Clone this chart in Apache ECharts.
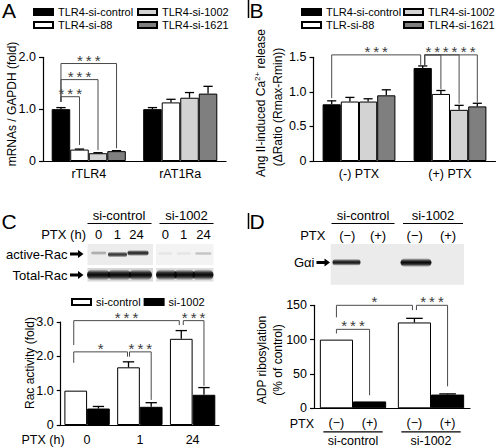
<!DOCTYPE html>
<html><head><meta charset="utf-8">
<script src="https://cdn.jsdelivr.net/npm/echarts@6/dist/echarts.min.js"></script>
<style>html,body{margin:0;padding:0;background:#fff}#c{width:498px;height:448px}</style>
</head><body><div id="c"></div>
<script>
// ================= DATA =================
// Panel A
const A_categories = ['rTLR4', 'rAT1Ra'];
const A_names = ['TLR4-si-control', 'TLR4-si-88', 'TLR4-si-1002', 'TLR4-si-1621'];
const A_control = [1.00, 1.00];
const A_control_err = [0.03, 0.03];
const A_si88 = [0.22, 1.13];
const A_si88_err = [0.01, 0.06];
const A_si1002 = [0.15, 1.22];
const A_si1002_err = [0.01, 0.10];
const A_si1621 = [0.19, 1.30];
const A_si1621_err = [0.01, 0.14];
const A_tickValues = [0, 1, 2];
const A_tickLabels = ['0', '1.0', '2.0'];

// Panel B
const B_categories = ['(-) PTX', '(+) PTX'];
const B_names = ['TLR4-si-control', 'TLR-si-88', 'TLR4-si-1002', 'TLR4-si-1621'];
const B_control = [0.82, 1.345];
const B_control_err = [0.05, 0.03];
const B_si88 = [0.86, 0.97];
const B_si88_err = [0.06, 0.05];
const B_si1002 = [0.86, 0.74];
const B_si1002_err = [0.04, 0.065];
const B_si1621 = [0.95, 0.79];
const B_si1621_err = [0.08, 0.045];
const B_tickValues = [0, 0.5, 1, 1.5];
const B_tickLabels = ['0', '0.5', '1.0', '1.5'];

// Panel C
const C_categories = ['0', '1', '24'];
const C_names = ['si-control', 'si-1002'];
const C_control = [1.00, 1.68, 2.51];
const C_control_err = [0, 0.16, 0.24];
const C_si1002 = [0.48, 0.53, 0.88];
const C_si1002_err = [0.06, 0.12, 0.21];
const C_tickValues = [0, 1, 2, 3];
const C_tickLabels = ['0', '1.0', '2.0', '3.0'];

// Panel D
const D_categories = ['si-control', 'si-1002'];
const D_names = ['PTX (−)', 'PTX (+)'];
const D_barLabels = ['(−)', '(+)'];
const D_minus = [100, 125];
const D_minus_err = [0, 6];
const D_plus = [10, 20];
const D_plus_err = [0, 1];
const D_tickValues = [0, 50, 100, 150];
const D_tickLabels = ['0', '50', '100', '150'];

// significance brackets (bar refs = [category, bar], heights in data units)
const A_brackets = [
  {from: [0, 0], to: [0, 1], top: 1.24, leftEnd: 1.14, rightEnd: 0.31, text: '***'},
  {from: [0, 0], to: [0, 2], top: 1.57, leftEnd: 1.14, rightEnd: 0.21, text: '***'},
  {from: [0, 0], to: [0, 3], top: 1.88, leftEnd: 1.14, rightEnd: 0.245, text: '***'}
];
const B_brackets = [
  {from: [0, 0], to: [1, 0], top: 1.535, leftEnd: 0.91, rightEnd: 1.39, text: '***', dx2: -2},
  {from: [1, 0], to: [1, 1], top: 1.535, leftEnd: 1.39, rightEnd: 1.04, text: '**', dx1: 2},
  {from: [1, 0], to: [1, 2], top: 1.535, leftEnd: 1.39, rightEnd: 0.83, text: '**', dx1: 2, textFrom: [1, 1]},
  {from: [1, 0], to: [1, 3], top: 1.535, leftEnd: 1.39, rightEnd: 0.85, text: '**', dx1: 2, textFrom: [1, 2]}
];
const C_brackets = [
  {from: [0, 0], to: [1, 0], top: 2.13, leftEnd: 1.81, rightEnd: 1.99, text: '*', dx1: -2, dx2: -1},
  {from: [1, 0], to: [1, 1], top: 2.13, leftEnd: 1.99, rightEnd: 0.73, text: '***', dx1: 1},
  {from: [0, 0], to: [2, 0], top: 3.04, leftEnd: 2.33, rightEnd: 2.91, text: '***', dx1: -2, dx2: -2},
  {from: [2, 0], to: [2, 1], top: 3.04, leftEnd: 2.91, rightEnd: 1.14, text: '***', dx1: 2}
];
const D_brackets = [
  {from: [0, 0], to: [0, 1], top: 115, leftEnd: 109, rightEnd: 19, text: '***'},
  {from: [0, 0], to: [1, 0], top: 150, leftEnd: 132.5, rightEnd: 143, text: '*', dx2: -2},
  {from: [1, 0], to: [1, 1], top: 150, leftEnd: 143, rightEnd: 32, text: '***', dx1: 2}
];

// ================= STYLE / HELPERS =================
const F = "'Liberation Sans', Arial, Helvetica, sans-serif";
const BLACK = '#000000', WHITE = '#ffffff', LIGHT = '#d3d3d3', DARK = '#7f7f7f';
const BR = '#4a4a4a';
const GAP_A = 0.19, GAP_B = 0.20, GAP_C = 0.14, GAP_D = 0.15;

function barX(cat, j, n, gap) { const w = 1 - gap; return cat - w / 2 + w / n * (j + 0.5); }
function starText(s) { return s.split('').join('\u2009'); }

function errItems(vals, errs, n, gap) {
  const out = [];
  vals.forEach((arr, j) => arr.forEach((v, i) => {
    const e = errs[j][i];
    if (e > 0) out.push([barX(i, j, n, gap), v, e]);
  }));
  return out;
}
function errRender(n, gap) {
  return function (params, api) {
    const x = api.value(0), v = api.value(1), e = api.value(2);
    const p0 = api.coord([x, v]), p1 = api.coord([x, v + e]);
    const bw = api.size([(1 - gap) / n, 0])[0];
    const hc = bw / 4;
    return {type: 'group', children: [
      {type: 'line', shape: {x1: p0[0], y1: p0[1], x2: p1[0], y2: p1[1]}, style: {stroke: BLACK, lineWidth: 1.3}},
      {type: 'line', shape: {x1: p1[0] - hc, y1: p1[1], x2: p1[0] + hc, y2: p1[1]}, style: {stroke: BLACK, lineWidth: 1.3}}
    ]};
  };
}
function bracketRender(list, n, gap) {
  return function (params, api) {
    const b = list[params.dataIndex];
    const x1 = barX(b.from[0], b.from[1], n, gap), x2 = barX(b.to[0], b.to[1], n, gap);
    const t1 = api.coord([x1, b.top]), t2 = api.coord([x2, b.top]);
    const l = api.coord([x1, b.leftEnd]), r = api.coord([x2, b.rightEnd]);
    const X1 = t1[0] + (b.dx1 || 0), X2 = t2[0] + (b.dx2 || 0);
    let tx0 = X1;
    if (b.textFrom) tx0 = api.coord([barX(b.textFrom[0], b.textFrom[1], n, gap), b.top])[0];
    return {type: 'group', children: [
      {type: 'polyline', shape: {points: [[X1, l[1]], [X1, t1[1]], [X2, t2[1]], [X2, r[1]]]},
        style: {stroke: BR, fill: null, lineWidth: 1}},
      {type: 'text', x: (tx0 + X2) / 2, y: t1[1] - 3.5,
        style: {text: starText(b.text), fill: '#3a3a3a', fontSize: 15, fontFamily: F,
          align: 'center', textAlign: 'center', verticalAlign: 'middle', textVerticalAlign: 'middle'}}
    ]};
  };
}
function bracketData(list, n, gap) { return list.map(b => [barX(b.to[0], b.to[1], n, gap), b.top]); }

function yAxisCfg(grid, max, interval, values, labels) {
  return {
    type: 'value', gridIndex: grid, min: 0, max: max, interval: interval,
    axisLine: {show: true, onZero: false, lineStyle: {color: BLACK, width: 1.2}},
    axisTick: {show: true, length: 4, lineStyle: {color: BLACK, width: 1.2}},
    splitLine: {show: false},
    axisLabel: {color: BLACK, fontSize: 12.5, fontFamily: F, margin: 7,
      formatter: v => { const k = values.findIndex(t => Math.abs(t - v) < 1e-9); return k >= 0 ? labels[k] : ''; }}
  };
}
function xCatCfg(grid, cats, showLabel, margin) {
  return {
    type: 'category', gridIndex: grid, data: cats,
    axisLine: {show: true, onZero: false, lineStyle: {color: BLACK, width: 1.2}},
    axisTick: {show: false},
    axisLabel: {show: showLabel, color: BLACK, fontSize: 12.5, fontFamily: F, margin: margin}
  };
}
function xValCfg(grid, n) {
  return {type: 'value', gridIndex: grid, min: -0.5, max: n - 0.5, show: false,
    axisLine: {show: false, onZero: false}, axisTick: {show: false}, axisLabel: {show: false}, splitLine: {show: false}};
}

function barSeries(name, data, color, xi, yi, gap) {
  return {type: 'bar', name: name, data: data, xAxisIndex: xi, yAxisIndex: yi,
    barGap: '0%', barCategoryGap: (gap * 100) + '%',
    itemStyle: {color: color, borderColor: BLACK, borderWidth: 1}, silent: true, z: 2};
}
function customSeries(xi, yi, data, render, z) {
  return {type: 'custom', xAxisIndex: xi, yAxisIndex: yi, data: data, renderItem: render, silent: true, z: z || 5};
}
function legendCfg(left, top, names, orient) {
  return {left: left, top: top, orient: orient || 'vertical', data: names, padding: 0,
    itemWidth: 19, itemHeight: 6, itemGap: 2, icon: 'rect', selectedMode: false,
    textStyle: {fontSize: 11, fontFamily: F, color: BLACK}};
}

// ---- blot graphics (images in the original figure) ----
function band(cx, cy, w, h, a) {
  return {type: 'rect', shape: {x: cx - w / 2, y: cy - h / 2, width: w, height: h, r: h / 2},
    style: {fill: {type: 'linear', x: 0, y: 0, x2: 0, y2: 1, colorStops: [
      {offset: 0, color: 'rgba(0,0,0,0)'}, {offset: 0.3, color: 'rgba(0,0,0,' + (a * 0.8) + ')'},
      {offset: 0.5, color: 'rgba(0,0,0,' + a + ')'}, {offset: 0.7, color: 'rgba(0,0,0,' + (a * 0.8) + ')'},
      {offset: 1, color: 'rgba(0,0,0,0)'}]}}};
}
function txt(x, y, s, size, align, extra) {
  return Object.assign({type: 'text', x: x, y: y, style: {text: s, fill: BLACK, fontSize: size, fontFamily: F,
    align: align || 'center', textAlign: align || 'center', verticalAlign: 'middle', textVerticalAlign: 'middle'}}, extra || {});
}
function arrow(x, y) {
  return {type: 'polygon', shape: {points: [[x, y - 1.6], [x + 8, y - 1.6], [x + 8, y - 4], [x + 13.5, y], [x + 8, y + 4], [x + 8, y + 1.6], [x, y + 1.6]]},
    style: {fill: BLACK}};
}
function hline(x1, x2, y, w) { return {type: 'line', shape: {x1: x1, y1: y, x2: x2, y2: y}, style: {stroke: BLACK, lineWidth: w || 1.2}}; }

const graphics = [
  // panel letters
  txt(9, 10, 'A', 21), txt(256.5, 10, 'B', 21), txt(9, 221, 'C', 21), txt(257, 221, 'D', 21),
  {type: 'line', shape: {x1: 248.5, y1: 0, x2: 248.5, y2: 18}, style: {stroke: BLACK, lineWidth: 1.5}},
  {type: 'line', shape: {x1: 248.5, y1: 213, x2: 248.5, y2: 229}, style: {stroke: BLACK, lineWidth: 1.5}},
  // axis titles
  txt(11.5, 104, 'mRNAs / GAPDH (fold)', 12, 'center', {rotation: Math.PI / 2}),
  {type: 'text', x: 260.5, y: 103, rotation: Math.PI / 2, style: {text: 'Ang II-induced Ca{sup|2+} release', fill: BLACK, fontSize: 12, fontFamily: F,
    align: 'center', textAlign: 'center', verticalAlign: 'middle', textVerticalAlign: 'middle', lineHeight: 14,
    rich: {sup: {fontSize: 8, fontFamily: F, fill: BLACK, verticalAlign: 'top', lineHeight: 14}}}},
  txt(277.5, 107, '(\u0394Ratio (Rmax-Rmin))', 12, 'center', {rotation: Math.PI / 2}),
  txt(29.5, 363, 'Rac activity (fold)', 12, 'center', {rotation: Math.PI / 2}),
  txt(261.5, 360, 'ADP ribosylation', 12, 'center', {rotation: Math.PI / 2}),
  txt(277.5, 360, '(% of control)', 12, 'center', {rotation: Math.PI / 2}),
  // C blot header
  txt(119, 215, 'si-control', 13), txt(186.5, 215, 'si-1002', 13),
  hline(87.5, 151.5, 223.5), hline(159.5, 213.5, 223.5),
  txt(86, 234, 'PTX (h)', 13, 'right'),
  txt(98.7, 234, '0', 13), txt(117.3, 234, '1', 13), txt(136.5, 234, '24', 13),
  txt(165.3, 234, '0', 13), txt(183.7, 234, '1', 13), txt(203.5, 234, '24', 13),
  txt(67.5, 254, 'active-Rac', 13, 'right'), arrow(70, 254),
  txt(67.5, 275, 'Total-Rac', 13, 'right'), arrow(70, 275),
  {type: 'rect', shape: {x: 87.5, y: 244, width: 65.5, height: 21}, style: {fill: '#ececec'}},
  {type: 'rect', shape: {x: 156, y: 244, width: 57.5, height: 21}, style: {fill: '#f3f3f3'}},
  {type: 'rect', shape: {x: 87.5, y: 268, width: 65.5, height: 13.5}, style: {fill: '#d8d8d8'}},
  {type: 'rect', shape: {x: 156, y: 268, width: 57.5, height: 13.5}, style: {fill: '#dedede'}},
  band(98.7, 253, 15, 4, 0.3), band(117.5, 254.5, 19, 6, 0.75), band(138, 253, 21, 6, 0.85),
  band(165.3, 253.5, 14, 4, 0.06), band(183.7, 253.5, 14, 4, 0.06), band(203.3, 253.5, 16, 4, 0.2),
  band(98.5, 274.8, 23, 11, 0.97), band(119.5, 274.8, 23, 11, 0.97), band(140.5, 274.8, 23, 11, 0.97),
  band(166.5, 274.8, 21, 11, 0.97), band(184.5, 274.8, 21, 11, 0.97), band(203, 274.8, 21, 11, 0.97),
  // C x-axis prefix
  txt(21.5, 440, 'PTX (h)', 12.5, 'left'),
  // D blot header
  txt(363, 215, 'si-control', 13), txt(433, 215, 'si-1002', 13),
  hline(331.5, 394.5, 223.5), hline(403, 463, 223.5),
  txt(325.5, 235.5, 'PTX', 13, 'right'),
  txt(347.3, 235.5, '(\u2212)', 13), txt(378, 235.5, '(+)', 13), txt(414.7, 235.5, '(\u2212)', 13), txt(448, 235.5, '(+)', 13),
  {type: 'rect', shape: {x: 330.7, y: 244, width: 133.3, height: 40.7}, style: {fill: '#ebebeb'}},
  band(346.5, 262.3, 28, 7, 0.9), band(416, 262.6, 31, 9, 0.97),
  txt(314.5, 262.5, 'G\u03b1i', 13, 'right'), arrow(316.5, 262.5),
  // D x-axis prefix
  txt(314, 423.5, 'PTX', 12.5, 'right')
];

// D x labels (under each bar, with underline and group name)
function dLabelRender(params, api) {
  const cat = api.value(0);
  const x0 = barX(cat, 0, 2, GAP_D), x1 = barX(cat, 1, 2, GAP_D);
  const p0 = api.coord([x0, 0]), p1 = api.coord([x1, 0]);
  const bw = api.size([(1 - GAP_D) / 2, 0])[0];
  const st = (s, size) => ({text: s, fill: BLACK, fontSize: size, fontFamily: F, align: 'center', textAlign: 'center', verticalAlign: 'middle', textVerticalAlign: 'middle'});
  return {type: 'group', children: [
    {type: 'text', x: p0[0], y: p0[1] + 15, style: st(D_barLabels[0], 12.5)},
    {type: 'text', x: p1[0], y: p1[1] + 15, style: st(D_barLabels[1], 12.5)},
    {type: 'line', shape: {x1: p0[0] - bw / 2 + 3.5, y1: p0[1] + 23.5, x2: p1[0] + bw / 2 - 3.5, y2: p0[1] + 23.5}, style: {stroke: BLACK, lineWidth: 1.2}},
    {type: 'text', x: (p0[0] + p1[0]) / 2, y: p0[1] + 32.5, style: st(D_categories[cat], 12.5)}
  ]};
}

const option = {
  animation: false,
  backgroundColor: '#ffffff',
  grid: [
    {left: 43, top: 57.3, width: 183, height: 103.7},
    {left: 313.5, top: 57.3, width: 182, height: 103.7},
    {left: 60.7, top: 322, width: 158.3, height: 103},
    {left: 314, top: 305.3, width: 156, height: 103}
  ],
  xAxis: [
    xCatCfg(0, A_categories, true, 6), xValCfg(0, 2),
    xCatCfg(1, B_categories, true, 6), xValCfg(1, 2),
    xCatCfg(2, C_categories, true, 8), xValCfg(2, 3),
    xCatCfg(3, D_categories, false, 8), xValCfg(3, 2)
  ],
  yAxis: [
    yAxisCfg(0, 2, 1, A_tickValues, A_tickLabels),
    yAxisCfg(1, 1.5, 0.5, B_tickValues, B_tickLabels),
    yAxisCfg(2, 3, 1, C_tickValues, C_tickLabels),
    yAxisCfg(3, 150, 50, D_tickValues, D_tickLabels)
  ],
  legend: [
    legendCfg(33, 6.5, [A_names[0], A_names[1]]),
    legendCfg(137, 6.5, [A_names[2], A_names[3]]),
    legendCfg(301, 6.5, [B_names[0], B_names[1]]),
    legendCfg(403, 6.5, [B_names[2], B_names[3]]),
    Object.assign(legendCfg(71, 296.5, C_names, 'horizontal'), {itemGap: 3})
  ],
  graphic: graphics,
  series: [
    barSeries(A_names[0], A_control, BLACK, 0, 0, GAP_A),
    barSeries(A_names[1], A_si88, WHITE, 0, 0, GAP_A),
    barSeries(A_names[2], A_si1002, LIGHT, 0, 0, GAP_A),
    barSeries(A_names[3], A_si1621, DARK, 0, 0, GAP_A),
    customSeries(1, 0, errItems([A_control, A_si88, A_si1002, A_si1621], [A_control_err, A_si88_err, A_si1002_err, A_si1621_err], 4, GAP_A), errRender(4, GAP_A)),
    customSeries(1, 0, bracketData(A_brackets, 4, GAP_A), bracketRender(A_brackets, 4, GAP_A), 6),

    barSeries(B_names[0], B_control, BLACK, 2, 1, GAP_B),
    barSeries(B_names[1], B_si88, WHITE, 2, 1, GAP_B),
    barSeries(B_names[2], B_si1002, LIGHT, 2, 1, GAP_B),
    barSeries(B_names[3], B_si1621, DARK, 2, 1, GAP_B),
    customSeries(3, 1, errItems([B_control, B_si88, B_si1002, B_si1621], [B_control_err, B_si88_err, B_si1002_err, B_si1621_err], 4, GAP_B), errRender(4, GAP_B)),
    customSeries(3, 1, bracketData(B_brackets, 4, GAP_B), bracketRender(B_brackets, 4, GAP_B), 6),

    barSeries(C_names[0], C_control, WHITE, 4, 2, GAP_C),
    barSeries(C_names[1], C_si1002, BLACK, 4, 2, GAP_C),
    customSeries(5, 2, errItems([C_control, C_si1002], [C_control_err, C_si1002_err], 2, GAP_C), errRender(2, GAP_C)),
    customSeries(5, 2, bracketData(C_brackets, 2, GAP_C), bracketRender(C_brackets, 2, GAP_C), 6),

    barSeries(D_names[0], D_minus, WHITE, 6, 3, GAP_D),
    barSeries(D_names[1], D_plus, BLACK, 6, 3, GAP_D),
    customSeries(7, 3, errItems([D_minus, D_plus], [D_minus_err, D_plus_err], 2, GAP_D), errRender(2, GAP_D)),
    customSeries(7, 3, bracketData(D_brackets, 2, GAP_D), bracketRender(D_brackets, 2, GAP_D), 6),
    customSeries(7, 3, D_categories.map((c, i) => [i, 0]), dLabelRender, 6)
  ]
};

const chart = echarts.init(document.getElementById('c'), null, {renderer: 'svg', width: 498, height: 448});
chart.setOption(option);
</script>
</body></html>
